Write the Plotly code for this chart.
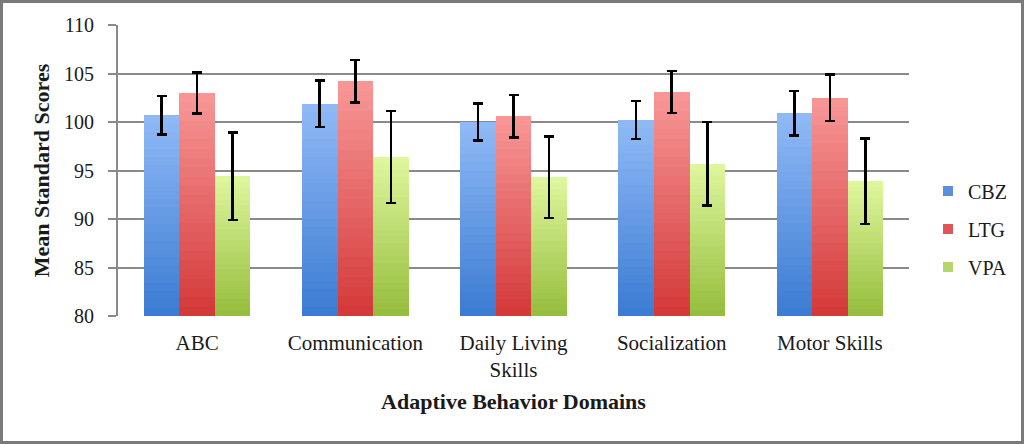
import plotly.graph_objects as go

categories = ["ABC", "Communication", "Daily Living<br>Skills", "Socialization", "Motor Skills"]
series_names = ["CBZ", "LTG", "VPA"]
cbz_values = [100.7, 101.9, 100.0, 100.2, 100.9]
ltg_values = [103.0, 104.2, 100.6, 103.1, 102.5]
vpa_values = [94.4, 96.4, 94.3, 95.7, 93.9]
cbz_err = [2.0, 2.4, 1.9, 1.95, 2.3]
ltg_err = [2.1, 2.2, 2.2, 2.15, 2.4]
vpa_err = [4.5, 4.75, 4.2, 4.3, 4.4]
y_ticks = [80, 85, 90, 95, 100, 105, 110]

values = [cbz_values, ltg_values, vpa_values]
errors = [cbz_err, ltg_err, vpa_err]
top_colors = [(143, 185, 245), (248, 150, 150), (222, 246, 156)]
bottom_colors = [(60, 124, 211), (212, 58, 58), (150, 190, 62)]
legend_colors = ["#5B8FDB", "#E05555", "#B4D66A"]

BASE = 80
BAR_W = 0.225
offsets = [-1.5 * BAR_W, -0.5 * BAR_W, 0.5 * BAR_W]
N = 24

fig = go.Figure()
font_family = "Liberation Serif"
txt = "#1a1a1a"

for s in range(3):
    vals = values[s]
    for k in range(N):
        t = k / (N - 1)
        c = tuple(int(round(bottom_colors[s][i] + (top_colors[s][i] - bottom_colors[s][i]) * t)) for i in range(3))
        bases = [BASE + (v - BASE) * k / N for v in vals]
        heights = [(v - BASE) / N for v in vals]
        fig.add_trace(go.Bar(
            x=categories, y=heights, base=bases,
            width=BAR_W, offset=offsets[s],
            marker=dict(color="rgb(%d,%d,%d)" % c, line=dict(width=0)),
            showlegend=False, hoverinfo="skip",
        ))

for s in range(3):
    fig.add_trace(go.Bar(
        x=categories, y=[v - BASE for v in values[s]], base=[BASE] * 5,
        width=BAR_W, offset=offsets[s],
        marker=dict(color="rgba(0,0,0,0)", line=dict(width=0)),
        error_y=dict(type="data", array=errors[s], color="black", thickness=2.5, width=5),
        name=series_names[s], showlegend=False,
    ))
    fig.add_trace(go.Scatter(
        x=[None], y=[None], mode="markers",
        marker=dict(symbol="square", size=10, color=legend_colors[s]),
        name=series_names[s], legendgroup=series_names[s], showlegend=True,
    ))

W, H = 1024, 444
L, R, T, B = 118, 909, 25, 316
pw, ph = R - L, B - T

fig.update_layout(
    width=W, height=H,
    margin=dict(l=L, r=W - R, t=T, b=H - B),
    barmode="overlay",
    bargap=0,
    plot_bgcolor="white", paper_bgcolor="white",
    font=dict(family=font_family, size=20, color=txt),
    showlegend=True,
    legend=dict(x=(928 - L) / pw, y=(B - 229) / ph, xanchor="left", yanchor="middle",
                font=dict(family=font_family, size=20, color=txt),
                tracegroupgap=9, traceorder="grouped", itemwidth=30,
                bgcolor="rgba(0,0,0,0)"),
    xaxis=dict(
        type="category", showgrid=False, ticks="", showline=False,
        ticklabelstandoff=12,
        tickfont=dict(family=font_family, size=21, color=txt),
        title=dict(text="<b>Adaptive Behavior Domains</b>", standoff=12,
                   font=dict(family=font_family, size=22, color=txt)),
    ),
    yaxis=dict(
        range=[80, 110], tickvals=y_ticks, ticktext=[str(v) for v in y_ticks],
        showgrid=True, gridcolor="#8a8a8a", gridwidth=2,
        showline=True, linecolor="#8a8a8a", linewidth=2,
        ticks="outside", ticklen=8, tickcolor="#8a8a8a", tickwidth=2,
        ticklabelstandoff=10,
        zeroline=False,
        tickfont=dict(family=font_family, size=20, color=txt),
        title=dict(text="<b>Mean Standard Scores</b>", standoff=8,
                   font=dict(family=font_family, size=22, color=txt)),
    ),
    shapes=[dict(type="rect", xref="paper", yref="paper",
                 x0=(1.5 - L) / pw, x1=(W - 1.5 - L) / pw,
                 y0=(B - (H - 1.5)) / ph, y1=(B - 1.5) / ph,
                 line=dict(color="#7a7a7a", width=3), fillcolor="rgba(0,0,0,0)")],
)

fig.write_html("out.html", config={"displayModeBar": False},
               post_script="document.body.style.margin='0';document.body.style.overflow='hidden';")
